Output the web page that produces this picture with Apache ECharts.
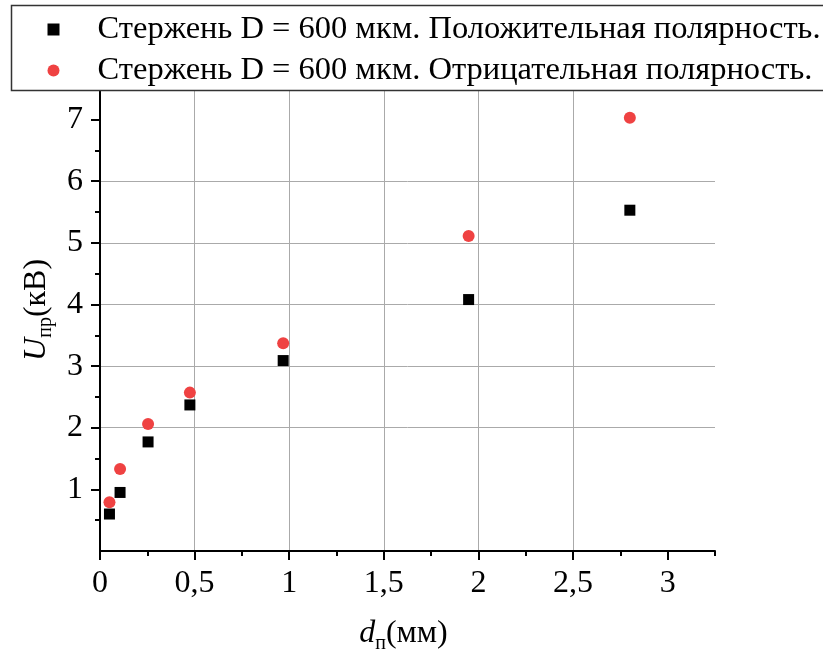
<!DOCTYPE html>
<html>
<head>
<meta charset="utf-8">
<script src="https://cdn.jsdelivr.net/npm/echarts@6/dist/echarts.min.js"></script>
<style>
  html, body { margin: 0; padding: 0; background: #fff; }
  #chart { width: 823px; height: 659px; }
</style>
</head>
<body>
<div id="chart"></div>
<script>
// gap d (mm) and breakdown voltage U (kV)
const gapMm = [0.05, 0.106, 0.254, 0.475, 0.968, 1.948, 2.8];
const uPositive = [0.60, 0.95, 1.77, 2.37, 3.09, 4.08, 5.53];
const uNegative = [0.79, 1.33, 2.06, 2.57, 3.37, 5.11, 7.03];

const seriesNames = [
    'Стержень D = 600 мкм. Положительная полярность.',
    'Стержень D = 600 мкм. Отрицательная полярность.'
];

const xTicks = [0, 0.5, 1, 1.5, 2, 2.5, 3];
const xMinorTicks = [0.25, 0.75, 1.25, 1.75, 2.25, 2.75, 3.25];
const yTicks = [1, 2, 3, 4, 5, 6, 7];
const yMinorTicks = [0.5, 1.5, 2.5, 3.5, 4.5, 5.5, 6.5];

const FONT = 'Liberation Serif';
const RED = '#ef4242';

const pairs = (xs, ys) => xs.map((x, i) => [x, ys[i]]);
const fmt = v => String(v).replace('.', ',');

const chart = echarts.init(document.getElementById('chart'));

const axisLine = { show: true, lineStyle: { color: '#000', width: 2 } };
const gridLine = { show: true, showMinLine: false, showMaxLine: false, lineStyle: { color: '#aaaaaa', width: 1 } };

chart.setOption({
    animation: false,
    backgroundColor: '#fff',
    grid: { left: 100, right: 108, top: 88.8, bottom: 106.7 },
    graphic: [{
        type: 'rect',
        z: 3,
        shape: { x: 11.5, y: 5.5, width: 900, height: 85 },
        style: { fill: '#fff', stroke: '#333', lineWidth: 1.5 }
    }],
    legend: {
        z: 5,
        orient: 'vertical',
        left: 42.5,
        top: 8,
        itemWidth: 12,
        itemHeight: 12,
        itemGap: 8,
        textStyle: { fontFamily: FONT, fontSize: 32.5, color: '#000', padding: [0, 0, 0, 33] },
        data: [
            { name: seriesNames[0], icon: 'rect' },
            { name: seriesNames[1], icon: 'circle' }
        ]
    },
    xAxis: [{
        type: 'value',
        min: 0,
        max: 3.25,
        interval: 0.5,
        name: '{i|d}{sub|п}{n|(мм)}',
        nameLocation: 'middle',
        nameGap: 63,
        nameTextStyle: {
            rich: {
                i: { fontFamily: FONT, fontStyle: 'italic', fontSize: 32, lineHeight: 40, color: '#000' },
                sub: { fontFamily: FONT, fontSize: 20, lineHeight: 16, verticalAlign: 'bottom', color: '#000' },
                n: { fontFamily: FONT, fontSize: 32, lineHeight: 40, color: '#000' }
            },
            padding: [0, 8, 0, 0]
        },
        axisLine: axisLine,
        axisTick: { show: true, inside: false, length: 9, customValues: xTicks, lineStyle: { color: '#000', width: 2 } },
        axisLabel: {
            customValues: xTicks,
            margin: 17,
            fontFamily: FONT, fontSize: 32, color: '#000',
            formatter: fmt
        },
        splitLine: gridLine
    }, {
        type: 'value',
        min: 0,
        max: 3.25,
        position: 'bottom',
        axisLine: { show: false },
        axisTick: { show: true, length: 5, customValues: xMinorTicks, lineStyle: { color: '#000', width: 2 } },
        axisLabel: { show: false },
        splitLine: { show: false }
    }],
    yAxis: [{
        type: 'value',
        min: 0,
        max: 7.5,
        interval: 1,
        name: '{i|U}{sub|пр}{n|(кВ)}',
        nameLocation: 'middle',
        nameGap: 43,
        nameTextStyle: {
            rich: {
                i: { fontFamily: FONT, fontStyle: 'italic', fontSize: 32, lineHeight: 40, color: '#000' },
                sub: { fontFamily: FONT, fontSize: 20, lineHeight: 16, verticalAlign: 'bottom', color: '#000' },
                n: { fontFamily: FONT, fontSize: 32, lineHeight: 40, color: '#000' }
            },
            padding: [0, 0, 0, 20]
        },
        axisLine: axisLine,
        axisTick: { show: true, inside: false, length: 9, customValues: yTicks, lineStyle: { color: '#000', width: 2 } },
        axisLabel: {
            customValues: yTicks,
            margin: 17,
            fontFamily: FONT, fontSize: 32, color: '#000'
        },
        splitLine: gridLine
    }, {
        type: 'value',
        min: 0,
        max: 7.5,
        position: 'left',
        axisLine: { show: false },
        axisTick: { show: true, length: 5, customValues: yMinorTicks, lineStyle: { color: '#000', width: 2 } },
        axisLabel: { show: false },
        splitLine: { show: false }
    }],
    series: [{
        name: seriesNames[0],
        type: 'scatter',
        symbol: 'rect',
        symbolSize: 11,
        itemStyle: { color: '#000', opacity: 1 },
        data: pairs(gapMm, uPositive)
    }, {
        name: seriesNames[1],
        type: 'scatter',
        symbol: 'circle',
        symbolSize: 12,
        itemStyle: { color: RED, opacity: 1 },
        data: pairs(gapMm, uNegative)
    }]
});
</script>
</body>
</html>
